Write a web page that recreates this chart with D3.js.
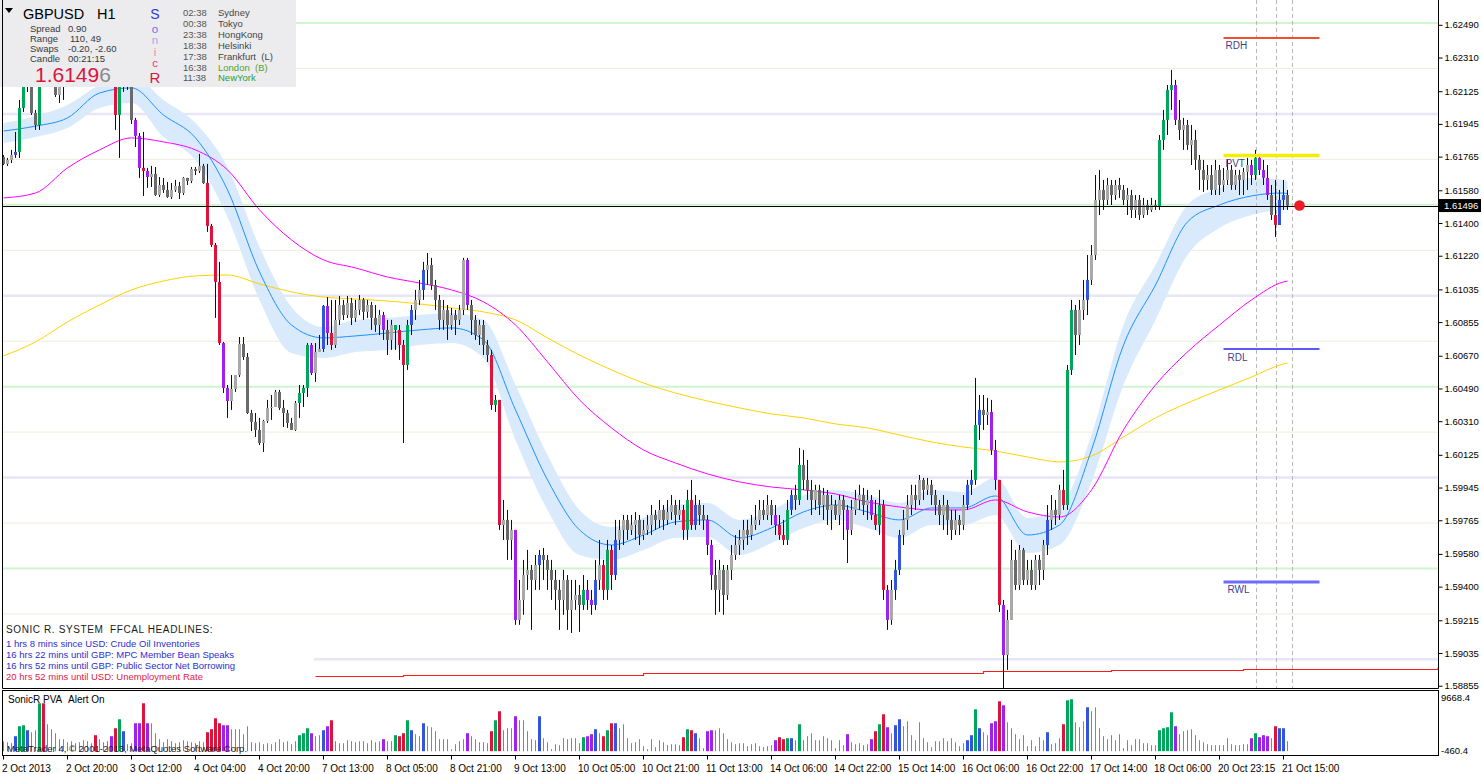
<!DOCTYPE html>
<html><head><meta charset="utf-8">
<script src="https://cdn.jsdelivr.net/npm/d3@7"></script>
<style>
html,body{margin:0;padding:0;background:#fff;overflow:hidden;}
svg{display:block;font-family:"Liberation Sans",Arial,sans-serif;}
svg text{white-space:pre;}
</style></head><body>
<svg id="c" width="1482" height="774"></svg>
<script>
// ---------------- DATA ----------------
const symbol = "GBPUSD", timeframe = "H1";
const infoLabels = ["Spread","Range","Swaps","Candle"];
const infoValues = ["0.90","110, 49","-0.20, -2.60","00:21:15"];
const sessionTimes = ["02:38","00:38","23:38","18:38","17:38","16:38","11:38"];
const sessionCities = ["Sydney","Tokyo","HongKong","Helsinki","Frankfurt  (L)","London  (B)","NewYork"];
const headlineTitle = "SONIC R. SYSTEM  FFCAL HEADLINES:";
const headlines = ["1 hrs 8 mins since USD: Crude Oil Inventories","16 hrs 22 mins until GBP: MPC Member Bean Speaks","16 hrs 52 mins until GBP: Public Sector Net Borrowing","20 hrs 52 mins until USD: Unemployment Rate"];
const headlineSoon = [false,false,false,true];

const lastPrice = 1.61496;
const firstOpen = 1.61763;
const closes = [
1.61725,1.61747,1.61774,1.61791,1.62033,1.62148,1.62187,1.62005,1.61939,1.62176,
1.62159,1.62165,1.62165,1.62104,1.62154,1.62242,1.62297,1.62324,1.62286,1.62352,
1.62379,1.62341,1.62407,1.62297,1.62324,1.62286,1.62308,1.62214,1.61994,1.62187,
1.62209,1.62165,1.61967,1.61879,1.61703,1.61686,1.61653,1.61670,1.61554,1.61609,
1.61582,1.61543,1.61582,1.61604,1.61565,1.61648,1.61631,1.61697,1.61686,1.61714,
1.61620,1.61384,1.61279,1.61076,1.60740,1.60493,1.60421,1.60487,1.60564,1.60735,
1.60663,1.60355,1.60306,1.60262,1.60190,1.60311,1.60383,1.60388,1.60471,1.60383,
1.60355,1.60300,1.60262,1.60410,1.60465,1.60493,1.60729,1.60575,1.60691,1.60707,
1.60944,1.60795,1.60729,1.60867,1.60949,1.60894,1.60960,1.60878,1.60922,1.60977,
1.60911,1.60949,1.60878,1.60839,1.60894,1.60812,1.60757,1.60839,1.60812,1.60729,
1.60619,1.60839,1.60922,1.60977,1.61032,1.61142,1.61169,1.61059,1.60977,1.60867,
1.60922,1.60839,1.60894,1.60867,1.60922,1.61197,1.60949,1.60867,1.60784,1.60839,
1.60729,1.60674,1.60399,1.60427,1.59739,1.59767,1.59657,1.59712,1.59217,1.59327,
1.59464,1.59492,1.59437,1.59519,1.59574,1.59547,1.59492,1.59437,1.59382,1.59327,
1.59437,1.59272,1.59327,1.59354,1.59299,1.59382,1.59327,1.59299,1.59437,1.59519,
1.59382,1.59602,1.59464,1.59657,1.59712,1.59767,1.59712,1.59739,1.59767,1.59684,
1.59712,1.59739,1.59794,1.59767,1.59822,1.59767,1.59810,1.59849,1.59794,1.59822,
1.59712,1.59877,1.59739,1.59849,1.59794,1.59767,1.59629,1.59464,1.59382,1.59492,
1.59354,1.59492,1.59574,1.59629,1.59657,1.59712,1.59684,1.59739,1.59767,1.59822,
1.59794,1.59849,1.59794,1.59739,1.59684,1.59657,1.59822,1.59904,1.59877,1.60069,
1.59987,1.59932,1.59877,1.59932,1.59849,1.59904,1.59822,1.59849,1.59794,1.59877,
1.59822,1.59712,1.59822,1.59877,1.59904,1.59849,1.59877,1.59794,1.59739,1.59849,
1.59382,1.59217,1.59382,1.59492,1.59684,1.59767,1.59849,1.59904,1.59877,1.59987,
1.59932,1.59960,1.59904,1.59849,1.59794,1.59849,1.59767,1.59712,1.59767,1.59739,
1.59849,1.59960,1.59987,1.60289,1.60372,1.60344,1.60361,1.60152,1.59987,1.59299,
1.59024,1.59217,1.59547,1.59409,1.59602,1.59437,1.59492,1.59409,1.59547,1.59492,
1.59629,1.59767,1.59822,1.59794,1.59932,1.59849,1.60592,1.60922,1.60784,1.60922,
1.60977,1.61087,1.61224,1.61527,1.61582,1.61527,1.61609,1.61554,1.61609,1.61582,
1.61527,1.61554,1.61472,1.61527,1.61444,1.61499,1.61472,1.61499,1.61488,1.61857,
1.61967,1.62132,1.62159,1.61967,1.61912,1.61939,1.61829,1.61857,1.61747,1.61692,
1.61637,1.61664,1.61582,1.61692,1.61609,1.61637,1.61692,1.61609,1.61664,1.61637,
1.61681,1.61719,1.61664,1.61758,1.61692,1.61648,1.61554,1.61444,1.61389,1.61527,
1.61554,1.61496];
const highs = [
1.61774,1.61758,1.61802,1.61901,1.62077,1.62187,1.62242,1.62242,1.62022,1.62242,
1.62297,1.62264,1.62214,1.62187,1.62214,1.62297,1.62352,1.62379,1.62352,1.62407,
1.62434,1.62407,1.62462,1.62434,1.62379,1.62352,1.62362,1.62324,1.62297,1.62242,
1.62269,1.62231,1.62198,1.61978,1.61895,1.61901,1.61703,1.61714,1.61708,1.61653,
1.61648,1.61626,1.61620,1.61637,1.61626,1.61653,1.61648,1.61708,1.61708,1.61780,
1.61725,1.61725,1.61395,1.61290,1.61186,1.60746,1.60509,1.60564,1.60564,1.60773,
1.60773,1.60685,1.60372,1.60355,1.60328,1.60317,1.60427,1.60454,1.60482,1.60482,
1.60427,1.60372,1.60328,1.60421,1.60509,1.60509,1.60740,1.60740,1.60740,1.60784,
1.60949,1.60993,1.60977,1.60977,1.60999,1.60977,1.60999,1.60988,1.60977,1.61004,
1.60988,1.60977,1.60966,1.60949,1.60922,1.60911,1.60867,1.60867,1.60839,1.60839,
1.60757,1.60867,1.60949,1.61032,1.61087,1.61186,1.61235,1.61208,1.61087,1.61004,
1.60977,1.60949,1.60933,1.60922,1.60949,1.61208,1.61208,1.60977,1.60894,1.60867,
1.60867,1.60757,1.60702,1.60454,1.60427,1.59877,1.59822,1.59767,1.59712,1.59437,
1.59547,1.59602,1.59519,1.59574,1.59602,1.59613,1.59574,1.59547,1.59492,1.59437,
1.59492,1.59464,1.59437,1.59437,1.59409,1.59464,1.59437,1.59382,1.59547,1.59657,
1.59547,1.59657,1.59629,1.59767,1.59767,1.59794,1.59794,1.59794,1.59810,1.59794,
1.59767,1.59794,1.59849,1.59822,1.59877,1.59849,1.59877,1.59904,1.59877,1.59877,
1.59849,1.59932,1.59987,1.59904,1.59877,1.59849,1.59794,1.59657,1.59547,1.59547,
1.59519,1.59519,1.59629,1.59684,1.59712,1.59767,1.59767,1.59794,1.59849,1.59877,
1.59877,1.59904,1.59877,1.59849,1.59794,1.59767,1.59877,1.59932,1.59960,1.60163,
1.60152,1.60097,1.59987,1.59960,1.59960,1.59943,1.59932,1.59904,1.59877,1.59904,
1.59904,1.59849,1.59877,1.59932,1.59960,1.59943,1.59932,1.59904,1.59877,1.59932,
1.59877,1.59409,1.59437,1.59547,1.59712,1.59822,1.59904,1.59960,1.59960,1.60014,
1.59998,1.59998,1.59987,1.59932,1.59877,1.59904,1.59877,1.59822,1.59822,1.59794,
1.59904,1.59987,1.60042,1.60548,1.60454,1.60454,1.60438,1.60427,1.60207,1.59987,
1.59327,1.59272,1.59657,1.59602,1.59629,1.59613,1.59547,1.59547,1.59574,1.59574,
1.59657,1.59849,1.59904,1.59877,1.59960,1.60042,1.60619,1.60977,1.60949,1.60977,
1.61087,1.61224,1.61279,1.61664,1.61692,1.61637,1.61648,1.61637,1.61637,1.61648,
1.61609,1.61593,1.61582,1.61554,1.61554,1.61538,1.61527,1.61538,1.61527,1.61884,
1.62022,1.62159,1.62242,1.62187,1.62077,1.61978,1.61967,1.61939,1.61912,1.61774,
1.61747,1.61719,1.61719,1.61747,1.61719,1.61703,1.61747,1.61719,1.61692,1.61692,
1.61703,1.61758,1.61747,1.61802,1.61774,1.61747,1.61719,1.61609,1.61637,1.61582,
1.61637,1.61582];
const lows = [
1.61719,1.61714,1.61730,1.61758,1.61758,1.62011,1.62121,1.61994,1.61912,1.61912,
1.62154,1.62154,1.62154,1.62093,1.62060,1.62077,1.62214,1.62264,1.62242,1.62264,
1.62324,1.62297,1.62319,1.62264,1.62269,1.62242,1.62253,1.62176,1.61912,1.61758,
1.62121,1.62132,1.61945,1.61818,1.61648,1.61549,1.61593,1.61598,1.61549,1.61543,
1.61565,1.61538,1.61532,1.61571,1.61532,1.61554,1.61609,1.61620,1.61664,1.61675,
1.61615,1.61351,1.61268,1.60878,1.60729,1.60465,1.60328,1.60372,1.60471,1.60553,
1.60647,1.60350,1.60256,1.60223,1.60179,1.60141,1.60300,1.60317,1.60388,1.60372,
1.60278,1.60273,1.60262,1.60256,1.60328,1.60388,1.60443,1.60564,1.60526,1.60691,
1.60691,1.60729,1.60702,1.60713,1.60839,1.60867,1.60878,1.60839,1.60856,1.60894,
1.60867,1.60878,1.60812,1.60801,1.60784,1.60757,1.60674,1.60702,1.60702,1.60647,
1.60190,1.60592,1.60784,1.60867,1.60949,1.60977,1.61059,1.61032,1.60922,1.60812,
1.60812,1.60757,1.60812,1.60784,1.60839,1.60894,1.60922,1.60784,1.60757,1.60729,
1.60674,1.60636,1.60372,1.60361,1.59712,1.59657,1.59547,1.59547,1.59190,1.59190,
1.59245,1.59382,1.59162,1.59382,1.59382,1.59437,1.59382,1.59327,1.59272,1.59162,
1.59245,1.59162,1.59145,1.59272,1.59151,1.59272,1.59272,1.59245,1.59272,1.59382,
1.59327,1.59327,1.59382,1.59437,1.59602,1.59629,1.59657,1.59684,1.59657,1.59629,
1.59657,1.59684,1.59684,1.59712,1.59722,1.59712,1.59739,1.59767,1.59739,1.59767,
1.59657,1.59657,1.59712,1.59712,1.59739,1.59712,1.59574,1.59382,1.59245,1.59261,
1.59245,1.59327,1.59437,1.59547,1.59574,1.59602,1.59629,1.59657,1.59712,1.59739,
1.59767,1.59767,1.59739,1.59684,1.59657,1.59629,1.59629,1.59794,1.59822,1.59849,
1.59932,1.59877,1.59794,1.59822,1.59794,1.59767,1.59739,1.59712,1.59767,1.59739,
1.59657,1.59530,1.59684,1.59794,1.59822,1.59794,1.59767,1.59767,1.59712,1.59684,
1.59327,1.59162,1.59190,1.59327,1.59464,1.59629,1.59712,1.59794,1.59822,1.59849,
1.59877,1.59904,1.59849,1.59794,1.59739,1.59712,1.59684,1.59657,1.59684,1.59684,
1.59712,1.59822,1.59904,1.59960,1.60207,1.60262,1.60289,1.60124,1.59932,1.59261,
1.58832,1.58942,1.59217,1.59382,1.59382,1.59409,1.59409,1.59382,1.59382,1.59409,
1.59437,1.59574,1.59712,1.59739,1.59767,1.59822,1.59822,1.60564,1.60674,1.60729,
1.60867,1.60894,1.61059,1.61197,1.61444,1.61472,1.61499,1.61499,1.61527,1.61538,
1.61499,1.61444,1.61428,1.61428,1.61417,1.61428,1.61444,1.61461,1.61472,1.61472,
1.61802,1.61884,1.62022,1.61939,1.61857,1.61802,1.61802,1.61719,1.61692,1.61582,
1.61571,1.61582,1.61554,1.61554,1.61554,1.61571,1.61609,1.61582,1.61582,1.61554,
1.61554,1.61582,1.61609,1.61637,1.61664,1.61609,1.61527,1.61417,1.61323,1.61389,
1.61472,1.61472];
// Sonic R PVA class per bar: g=bull climax, r=bear climax, b=bull rising, v=bear rising, .=normal
const pva = (
"...bggb..g"+"r........."+"...r...vrg"+"b..vvrv..."+".........."+".rrrrvv..."+".........."+"....gggv.."+
"bvr......."+".....v..gr"+"rgb..b...."+"......v..."+"..rgr...v."+"....b....."+".....gvvb."+"rgrb......"+
".........."+"rgrb..vv.."+".........."+"...vrrgb.g"+".........."+".v.....vrg"+"rv.bb....."+".........."+
".bbgb..vvr"+"v........."+".b...rgg.."+".b........"+".........g"+"gggv......"+".........."+"..vgvvv.rb"+"b.").split("");
const volumes = [
1630,1467,1304,2445,4075,4238,3423,3097,3423,7824,
7824,4401,3586,2934,1956,1956,1467,1630,1304,1467,
1793,1630,1304,2608,1956,1467,1630,2445,3749,5216,
3260,1141,1304,4564,4564,7824,4564,4564,2934,1956,
1467,1956,1630,1304,1467,1793,1630,1467,1304,1630,
1467,3097,3586,5379,4564,4238,4238,3586,3586,3586,
2771,4075,1467,1304,1467,1141,1304,1141,1467,1956,
1467,1630,1141,1630,2608,2934,3749,2934,2445,2608,
3423,4075,5053,1630,1304,1304,1793,1630,1467,1630,
1630,1304,1793,1467,1630,1956,1630,1630,2608,2445,
2934,5053,3423,2771,2445,4564,4075,3912,3260,1956,
1956,1956,326,1141,1630,1956,2934,2445,1956,1467,
1467,1304,3260,5053,6520,3423,3749,3749,5705,5053,
5053,3260,1956,1793,5705,2119,1467,326,1141,978,
2119,1956,2119,2119,1304,2282,2445,2771,3586,2934,
2445,3423,4564,4564,3749,4401,2119,1304,1467,1956,
815,326,1956,652,1793,1467,978,1141,1141,978,
2282,3586,3423,2934,2119,489,3260,3423,3423,3749,
2934,1956,1467,1141,1304,1304,815,1141,1304,815,
652,815,978,1793,2282,1956,2119,2119,1793,4401,
1793,2445,2934,1793,1793,2445,2119,1793,489,1793,
978,2771,1467,1141,1304,978,1141,1956,3260,4401,
6031,3912,2934,4238,5216,4075,4890,2608,1793,4727,
2119,1467,652,1630,1630,2119,1630,2119,1467,815,
1304,1793,2608,6846,3749,3097,2608,4564,4890,8150,
7498,4727,3749,2771,1956,2608,815,1793,815,2282,
1793,3097,1141,1304,2119,4401,8313,8476,4727,3912,
4890,7172,6520,7172,3749,2445,1956,2608,1793,2771,
489,1793,978,1956,1956,1304,1304,978,978,3423,
3749,3912,6357,4075,2771,3260,3423,3586,2608,1793,
1467,1141,978,978,978,978,2119,1141,978,978,
1141,1141,2119,2934,2282,2608,2445,2119,4075,3749,
3749,1630];
const volMax = 9668.4, volMin = -460.4;

// moving averages sampled every 8 bars (+ last bar)
const maIdx = d3.range(0, 321, 8).concat([321]);
const emaMid = [1.61906,1.61933,1.61978,1.62115,1.62143,1.61994,1.61868,1.61582,1.61131,1.60839,1.60768,1.60779,1.60795,1.60812,1.60823,1.60757,1.60372,1.59987,1.59712,1.59629,1.59684,1.59756,1.59767,1.59668,1.59723,1.59811,1.59849,1.59811,1.59767,1.59833,1.59833,1.59899,1.59684,1.59739,1.60152,1.60729,1.61059,1.61406,1.61499,1.61549,1.61565,1.61560];
const emaHigh = [1.61950,1.61989,1.62049,1.62159,1.62214,1.62077,1.61950,1.61708,1.61268,1.60938,1.60828,1.60867,1.60878,1.60894,1.60905,1.60867,1.60509,1.60124,1.59822,1.59728,1.59778,1.59849,1.59860,1.59767,1.59822,1.59904,1.59932,1.59904,1.59860,1.59932,1.59921,1.59998,1.59778,1.59838,1.60234,1.60839,1.61169,1.61499,1.61593,1.61648,1.61637,1.61631];
const emaLow = [1.61840,1.61873,1.61923,1.62033,1.62060,1.61873,1.61747,1.61433,1.60977,1.60685,1.60658,1.60691,1.60702,1.60729,1.60740,1.60658,1.60207,1.59822,1.59574,1.59547,1.59602,1.59668,1.59673,1.59574,1.59640,1.59723,1.59767,1.59723,1.59668,1.59739,1.59739,1.59794,1.59585,1.59629,1.59976,1.60509,1.60867,1.61224,1.61373,1.61444,1.61472,1.61472];
const ema89 = [1.61538,1.61565,1.61703,1.61802,1.61868,1.61846,1.61802,1.61692,1.61472,1.61307,1.61197,1.61153,1.61103,1.61070,1.61032,1.60966,1.60839,1.60636,1.60427,1.60273,1.60152,1.60080,1.60020,1.59976,1.59948,1.59932,1.59910,1.59866,1.59838,1.59822,1.59822,1.59877,1.59811,1.59783,1.59932,1.60262,1.60509,1.60691,1.60839,1.60977,1.61076,1.61081];
const ema200 = [1.60669,1.60746,1.60856,1.60949,1.61032,1.61081,1.61109,1.61114,1.61065,1.61021,1.60993,1.60982,1.60971,1.60955,1.60933,1.60911,1.60867,1.60768,1.60674,1.60592,1.60520,1.60465,1.60421,1.60383,1.60350,1.60328,1.60295,1.60273,1.60234,1.60196,1.60168,1.60146,1.60113,1.60086,1.60119,1.60223,1.60328,1.60410,1.60482,1.60553,1.60625,1.60630];
const redLineIdx = [78,100,160,245,277,310,359];
const redLineVals = [1.58908,1.58914,1.58925,1.58936,1.58942,1.58947,1.58958];

const sonicLevels = [1.5900,1.5925,1.5950,1.5975,1.6000,1.6025,1.6050,1.6075,1.6100,1.6125,1.6150,1.6175,1.6200,1.6225,1.6250];
const pivotNames = ["RDH","PVT","RDL","RWL"];
const pivotPrices = [1.62418,1.61771,1.60707,1.59426];
const pivotFrom = 305, pivotTo = 329;
const sessionBars = [313,318,322];
const priceTicks = [1.62490,1.62310,1.62125,1.61945,1.61765,1.61580,1.61400,1.61220,1.61035,1.60855,1.60670,1.60490,1.60310,1.60125,1.59945,1.59765,1.59580,1.59400,1.59215,1.59035,1.58855];
const timeLabels = ["2 Oct 2013","2 Oct 20:00","3 Oct 12:00","4 Oct 04:00","4 Oct 20:00","7 Oct 13:00","8 Oct 05:00","8 Oct 21:00","9 Oct 13:00","10 Oct 05:00","10 Oct 21:00","11 Oct 13:00","14 Oct 06:00","14 Oct 22:00","15 Oct 14:00","16 Oct 06:00","16 Oct 22:00","17 Oct 14:00","18 Oct 06:00","20 Oct 23:15","21 Oct 15:00"];
const timeIdx = d3.range(0, 321, 16);

// ---------------- DRAW ----------------
const W = 1482, H = 774;
const PL = 3, PR = 1438, PB = 688;
const svg = d3.select("#c");
const xs = d3.scaleLinear().domain([0, 321]).range([3.5, 1287.5]);
const ys = d3.scaleLinear().domain([1.626265, 1.626265 - 0.000055*774]).range([0, 774]);
const yv = d3.scaleLinear().domain([volMin, volMax]).range([754, 692]);

const colors = {g:"#00a65a", r:"#dc143c", b:"#3355dd", v:"#a020f0", bull:"#a9a9a9", bear:"#6a6a6a", vol:"#778899"};

svg.append("rect").attr("width",W).attr("height",H).attr("fill","#fff");
svg.append("defs").append("clipPath").attr("id","pc").append("rect").attr("x",PL).attr("y",0).attr("width",PR-PL).attr("height",PB);
const plot = svg.append("g").attr("clip-path","url(#pc)");

// Sonic R levels
plot.append("g").selectAll("line").data(sonicLevels).join("line")
  .attr("x1",PL).attr("x2",PR)
  .attr("y1",d=>ys(d)).attr("y2",d=>ys(d))
  .attr("stroke",d=>{const m=Math.round(d*10000)%100; return m===0?"#e6e6f6":(m===50?"#cff5cf":"#efebdc");})
  .attr("stroke-width",d=>{const m=Math.round(d*10000)%100; return m===0?2.5:(m===50?2:1);});

// Dragon band
const pts = maIdx.map((k,i)=>({k, hi:emaHigh[i], lo:emaLow[i], mid:emaMid[i], m89:ema89[i], m200:ema200[i]}));
plot.append("path").datum(pts)
  .attr("d", d3.area().x(d=>xs(d.k)).y0(d=>ys(d.lo)).y1(d=>ys(d.hi)).curve(d3.curveMonotoneX))
  .attr("fill","#d8eafb");

// session separators
plot.append("g").selectAll("line").data(sessionBars).join("line")
  .attr("x1",d=>Math.round(xs(d))+0.5).attr("x2",d=>Math.round(xs(d))+0.5)
  .attr("y1",0).attr("y2",PB)
  .attr("stroke","#b8b8b8").attr("stroke-dasharray","4,3").attr("stroke-width",1);

// MA lines
const ln = key => d3.line().x(d=>xs(d.k)).y(d=>ys(d[key])).curve(d3.curveMonotoneX);
plot.append("path").datum(pts).attr("d", ln("m200")).attr("fill","none").attr("stroke","#ffd200").attr("stroke-width",1);
plot.append("path").datum(pts).attr("d", ln("m89")).attr("fill","none").attr("stroke","#ff00ff").attr("stroke-width",1);
plot.append("path").datum(pts).attr("d", ln("mid")).attr("fill","none").attr("stroke","#1e90ff").attr("stroke-width",1);

// red long-term line
plot.append("path").datum(redLineIdx.map((k,i)=>({k,v:redLineVals[i]})))
  .attr("d", d3.line().x(d=>Math.min(xs(d.k),PR)).y(d=>Math.round(ys(d.v))+0.5).curve(d3.curveStepAfter))
  .attr("fill","none").attr("stroke","#ff1a1a").attr("stroke-width",1.2);

// candles
const candles = closes.map((c,i)=>({i, o: i===0?firstOpen:closes[i-1], c, h:highs[i], l:lows[i], p:pva[i]}));
const colOf = d => d.p!=="." ? colors[d.p] : (d.c>=d.o?colors.bull:colors.bear);
const cg = plot.append("g").selectAll("g").data(candles).join("g");
cg.append("line").attr("x1",d=>xs(d.i)).attr("x2",d=>xs(d.i))
  .attr("y1",d=>ys(d.h)).attr("y2",d=>ys(d.l)).attr("stroke","#0c0c30").attr("stroke-width",1);
cg.append("rect").attr("x",d=>xs(d.i)-1.5).attr("width",3)
  .attr("y",d=>ys(Math.max(d.o,d.c)))
  .attr("height",d=>Math.max(1, ys(Math.min(d.o,d.c))-ys(Math.max(d.o,d.c))))
  .attr("fill",colOf);

// pivot levels
const pivStroke = ["#f0502f","#f2f000","#5a5aff","#6c6cff"];
const pivWidth = [2,3.5,2,3];
const pivLabelDx = [2,2,4,4];
const pg = plot.append("g");
pivotNames.forEach((n,i)=>{
  const y = ys(pivotPrices[i]);
  pg.append("line").attr("x1",xs(pivotFrom)).attr("x2",xs(pivotTo)).attr("y1",y).attr("y2",y)
    .attr("stroke",pivStroke[i]).attr("stroke-width",pivWidth[i]);
  pg.append("text").attr("x",xs(pivotFrom)+pivLabelDx[i]).attr("y",y+11.5).text(n)
    .attr("font-size","10px").attr("fill","#3f3f8f");
});

// last price line and marker
const yl = Math.round(ys(lastPrice))+0.5;
plot.append("line").attr("x1",PL).attr("x2",PR).attr("y1",yl).attr("y2",yl).attr("stroke","#000").attr("stroke-width",1);
plot.append("circle").attr("cx",xs(324)).attr("cy",ys(lastPrice)).attr("r",5.3).attr("fill","#ee1c25");

// headlines box
const hb = svg.append("g");
hb.append("rect").attr("x",PL).attr("y",617).attr("width",311).attr("height",PB-617).attr("fill","#fff");
hb.append("text").attr("x",6).attr("y",633).text(headlineTitle).attr("font-size","10px").attr("letter-spacing","0.6px").attr("fill","#1a1a1a");
hb.selectAll("text.h").data(headlines).join("text").attr("class","h")
  .attr("x",6).attr("y",(d,i)=>646.5+i*11).text(d=>d)
  .attr("font-size","9.5px").attr("fill",(d,i)=>headlineSoon[i]?"#e0204a":"#2e2ed0");

// info panel
const ip = svg.append("g");
ip.append("rect").attr("x",0).attr("y",0).attr("width",296).attr("height",87).attr("fill","#ececef");
ip.append("path").attr("d","M5,8 L13,8 L9,13 Z").attr("fill","#000");
ip.append("text").attr("x",23).attr("y",19).text(symbol).attr("font-size","14.5px").attr("fill","#000");
ip.append("text").attr("x",97).attr("y",19).text(timeframe).attr("font-size","14.5px").attr("fill","#000");
infoLabels.forEach((t,i)=>{
  ip.append("text").attr("x",30).attr("y",31.5+i*10).text(t).attr("font-size","9.5px").attr("fill","#3a3a3a");
  ip.append("text").attr("x",i===1?70:68).attr("y",31.5+i*10).text(infoValues[i]).attr("font-size","9.5px").attr("fill","#3a3a3a");
});
const lp = lastPrice.toFixed(5);
const bigT = ip.append("text").attr("x",35).attr("y",82).attr("font-size","21px");
bigT.append("tspan").text(lp.slice(0,-1)).attr("fill","#dc143c");
bigT.append("tspan").text(lp.slice(-1)).attr("fill","#8a8a8a");
// vertical "SonicR" logo
const sonic = ["S","o","n","i","c","R"], sonicCol = ["#3434d4","#7070e2","#a8a8ee","#ff7fa6","#e6406c","#dc143c"];
const sonicY = [19,32.5,44,55.5,67,82.5], sonicSz = [14,11.5,11.5,11.5,11.5,15];
sonic.forEach((s,i)=>ip.append("text").attr("x",155).attr("y",sonicY[i]).attr("text-anchor","middle")
  .attr("font-size",sonicSz[i]+"px").attr("fill",sonicCol[i]).text(s));
sessionTimes.forEach((t,i)=>{
  const y = 16 + i*10.9;
  ip.append("text").attr("x",183).attr("y",y).text(t).attr("font-size","9.5px").attr("fill","#555");
  ip.append("text").attr("x",218).attr("y",y).text(sessionCities[i]).attr("font-size","9.5px")
    .attr("fill", i===5?"#5a9f22":(i===6?"#22a33a":"#444"));
});

// frames
const fr = svg.append("g").attr("fill","none").attr("stroke","#000").attr("stroke-width",1);
fr.append("path").attr("d",`M2.5,0 V${PB+0.5} H${PR+0.5} V0`);
fr.append("rect").attr("x",2.5).attr("y",690.5).attr("width",PR-2).attr("height",65);

// price axis
const pa = svg.append("g").attr("transform",`translate(${PR+0.5},0)`)
  .call(d3.axisRight(ys).tickValues(priceTicks).tickSize(4).tickPadding(2).tickFormat(d3.format(".5f")));
pa.select(".domain").remove();
pa.selectAll("text").attr("font-size","9.5px").attr("font-family","Liberation Sans, Arial, sans-serif").attr("fill","#000");
// last price box
svg.append("rect").attr("x",PR+1).attr("y",ys(lastPrice)-6.5).attr("width",42).attr("height",13).attr("fill","#000");
svg.append("text").attr("x",PR+6).attr("y",ys(lastPrice)+3.5).text(lastPrice.toFixed(5)).attr("font-size","9.5px").attr("fill","#fff");

// volume panel
const vg = svg.append("g");
vg.selectAll("rect").data(volumes).join("rect")
  .attr("x",(d,i)=>pva[i]!=="."?xs(i)-1.5:xs(i)-0.5)
  .attr("width",(d,i)=>pva[i]!=="."?3:1)
  .attr("y",d=>yv(d)).attr("height",d=>yv(0)-yv(d))
  .attr("fill",(d,i)=>pva[i]!=="."?colors[pva[i]]:colors.vol);
vg.append("text").attr("x",8).attr("y",703).text("SonicR PVA").attr("font-size","10px").attr("fill","#000");
vg.append("text").attr("x",68).attr("y",703).text("Alert On").attr("font-size","10px").attr("fill","#000");
vg.append("text").attr("x",7).attr("y",752).text("MetaTrader 4, © 2001-2013, MetaQuotes Software Corp.").attr("font-size","9.5px").attr("fill","#222");
vg.append("text").attr("x",PR+3).attr("y",yv(volMax)+9).text(volMax.toFixed(1)).attr("font-size","9.5px").attr("fill","#000");
vg.append("text").attr("x",PR+3).attr("y",yv(volMin)).text(volMin.toFixed(1)).attr("font-size","9.5px").attr("fill","#000");

// time axis
const ta = svg.append("g").attr("transform","translate(0,755.5)")
  .call(d3.axisBottom(xs).tickValues(timeIdx).tickSize(4).tickPadding(5).tickFormat((d,i)=>timeLabels[i]));
ta.select(".domain").remove();
ta.selectAll("line").attr("transform","translate(-0.5,0)");
ta.selectAll("text").attr("text-anchor","start").attr("dx","-2").attr("font-size","10px")
  .attr("font-family","Liberation Sans, Arial, sans-serif").attr("fill","#000");
</script></body></html>
